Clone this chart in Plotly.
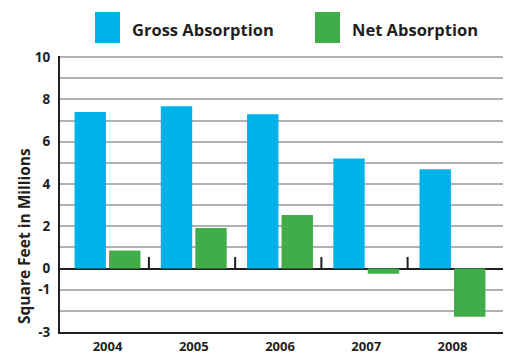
import plotly.graph_objects as go

# Office absorption by year, in millions of square feet
years = ["2004", "2005", "2006", "2007", "2008"]
gross_absorption = [7.4, 7.67, 7.3, 5.2, 4.7]
net_absorption = [0.85, 1.92, 2.53, -0.25, -2.28]

y_tick_vals = [-3, -2, -1, 0, 1, 2, 3, 4, 5, 6, 7, 8, 9, 10]
y_tick_text = ["-3", "", "-1", "0", "", "2", "", "4", "", "6", "", "8", "", "10"]

series_names = ["Gross Absorption", "Net Absorption"]
BLUE = "#00b2ea"
GREEN = "#40ad4a"
DARK = "#231f20"
GRID = "#b1b1b3"
FONT = "Open Sans"

W, H = 508, 354
L, R, T, B = 60, 5, 56, 22

fig = go.Figure()
fig.add_trace(go.Bar(x=years, y=gross_absorption, name=series_names[0],
                     marker=dict(color=BLUE, line=dict(width=0))))
fig.add_trace(go.Bar(x=years, y=net_absorption, name=series_names[1],
                     marker=dict(color=GREEN, line=dict(width=0))))

# small separator ticks on the zero line between year groups
shapes = []
for i in range(len(years) - 1):
    shapes.append(dict(type="line", xref="x", yref="y",
                       x0=i + 0.48, x1=i + 0.48, y0=0, y1=0.55,
                       line=dict(color=DARK, width=2)))

# hand-drawn legend with large swatches
plot_w = W - L - R
plot_h = H - T - B


def px_x(p):
    return (p - L) / plot_w


def px_y(p):
    return (H - B - p) / plot_h


annotations = []
legend_items = [(95, BLUE, series_names[0]), (315, GREEN, series_names[1])]
for left, color, label in legend_items:
    shapes.append(dict(type="rect", xref="paper", yref="paper",
                       x0=px_x(left), x1=px_x(left + 25),
                       y0=px_y(43), y1=px_y(12),
                       fillcolor=color, line=dict(width=0)))
    annotations.append(dict(xref="paper", yref="paper",
                            x=px_x(left + 35), y=px_y(29),
                            text="<b>" + label + "</b>", showarrow=False,
                            xanchor="left", yanchor="middle",
                            font=dict(family=FONT, size=16.5, color=DARK)))

annotations.append(dict(xref="paper", yref="paper",
                        x=px_x(24), y=px_y(236),
                        text="<b>Square Feet in Millions</b>", textangle=-90,
                        showarrow=False, xanchor="center", yanchor="middle",
                        font=dict(family=FONT, size=15.5, color=DARK)))

fig.update_layout(
    width=W, height=H,
    margin=dict(l=L, r=R, t=T, b=B, pad=0, autoexpand=False),
    paper_bgcolor="white", plot_bgcolor="white",
    barmode="group", bargap=0.2, bargroupgap=0.09,
    showlegend=False,
    shapes=shapes, annotations=annotations,
    font=dict(family=FONT, color=DARK),
)
fig.update_xaxes(
    type="category", range=[-0.551, 4.586], automargin=False,
    showgrid=False, zeroline=False,
    showline=True, linecolor=DARK, linewidth=2,
    ticks="", ticklabelstandoff=1,
    tickvals=years, ticktext=["<b>" + y + "</b>" for y in years],
    tickfont=dict(family=FONT, size=13, color=DARK),
)
fig.update_yaxes(
    range=[-3, 10.05], automargin=False,
    tickvals=y_tick_vals, ticktext=["<b>" + t + "</b>" if t else "" for t in y_tick_text],
    showgrid=True, gridcolor=GRID, gridwidth=2,
    zeroline=True, zerolinecolor=DARK, zerolinewidth=2,
    showline=True, linecolor=DARK, linewidth=2,
    ticks="", ticklabelstandoff=5,
    tickfont=dict(family=FONT, size=13.5, color=DARK),
)

fig.write_html("out.html")
